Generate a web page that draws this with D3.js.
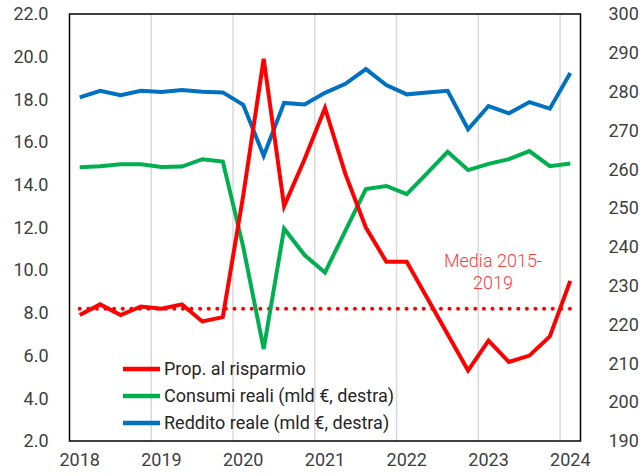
<!DOCTYPE html>
<html>
<head>
<meta charset="utf-8">
<title>Risparmio</title>
<script src="https://cdn.jsdelivr.net/npm/d3@7"></script>
<style>
  body { margin: 0; background: #fff; }
  text { font-family: Roboto, "Noto Sans", sans-serif; }
  .tick text { font-size: 18px; fill: #404040; }
  .legend text { font-size: 18px; fill: #262626; }
</style>
</head>
<body>
<script>
// quarters 2018Q1 - 2024Q1
var quarters = [];
[2018, 2019, 2020, 2021, 2022, 2023, 2024].forEach(function(y) {
  [1, 2, 3, 4].forEach(function(q) {
    if (y < 2024 || q == 1) quarters.push(y + 'Q' + q);
  });
});

var risparmio = [7.9, 8.4, 7.9, 8.3, 8.2, 8.4, 7.6, 7.8, 13.5, 19.9, 13.0, 15.2, 17.6, 14.5, 12.0, 10.4, 10.4, 8.7, 7.0, 5.3, 6.7, 5.7, 6.0, 6.9, 9.5];
var consumi = [260.5, 260.8, 261.3, 261.3, 260.6, 260.7, 262.6, 262.0, 240.0, 213.7, 244.7, 237.9, 233.4, 244.2, 254.9, 255.7, 253.6, 259.0, 264.5, 259.8, 261.4, 262.6, 264.7, 260.8, 261.5];
var reddito = [278.5, 280.2, 279.1, 280.2, 279.9, 280.4, 280.0, 279.8, 276.6, 263.5, 277.1, 276.7, 279.7, 282.0, 285.8, 281.7, 279.3, 279.8, 280.2, 270.3, 276.3, 274.4, 277.3, 275.6, 284.8];
var mediaRisparmio = 8.2;

var leftTicks = [2, 4, 6, 8, 10, 12, 14, 16, 18, 20, 22];
var rightTicks = [190, 200, 210, 220, 230, 240, 250, 260, 270, 280, 290, 300];
var yearLabels = ['2018', '2019', '2020', '2021', '2022', '2023', '2024'];

var legendItems = [
  {name: 'Prop. al risparmio', color: '#ff0000'},
  {name: 'Consumi reali (mld €, destra)', color: '#00b050'},
  {name: 'Reddito reale (mld €, destra)', color: '#0070c0'}
];

var w = 644, h = 476;
var margin = {left: 69.5, right: 63.5, top: 14, bottom: 35};

var svg = d3.select('body').append('svg').attr('width', w).attr('height', h);

var x = d3.scaleBand().domain(quarters).range([margin.left, w - margin.right]);
var xc = function(q) { return x(q) + x.bandwidth() / 2; };
var yL = d3.scaleLinear().domain([2, 22]).range([h - margin.bottom, margin.top]);
var yR = d3.scaleLinear().domain([190, 300]).range([h - margin.bottom, margin.top]);

// vertical gridlines at the start of each year
svg.append('g').selectAll('line').data(yearLabels.slice(1)).enter().append('line')
  .attr('x1', function(d) { return x(d + 'Q1'); })
  .attr('x2', function(d) { return x(d + 'Q1'); })
  .attr('y1', margin.top).attr('y2', h - margin.bottom)
  .attr('stroke', '#d9d9d9').attr('stroke-width', 1.5);

// axes
var leftAxis = d3.axisLeft(yL).tickValues(leftTicks).tickFormat(d3.format('.1f')).tickSize(0).tickPadding(21);
svg.append('g').attr('class', 'leftAxis').attr('transform', 'translate(' + margin.left + ',0)').call(leftAxis)
  .call(function(g) { g.select('.domain').remove(); });

var rightAxis = d3.axisRight(yR).tickValues(rightTicks).tickSize(0).tickPadding(28);
svg.append('g').attr('class', 'rightAxis').attr('transform', 'translate(' + (w - margin.right) + ',0)').call(rightAxis)
  .call(function(g) { g.select('.domain').remove(); });

var xAxis = d3.axisBottom(x)
  .tickValues(yearLabels.map(function(d) { return d + 'Q1'; }))
  .tickFormat(function(d) { return d.slice(0, 4); })
  .tickSize(0).tickPadding(12);
svg.append('g').attr('class', 'xAxis').attr('transform', 'translate(0,' + (h - margin.bottom) + ')').call(xAxis)
  .call(function(g) { g.select('.domain').remove(); });

// plot border
svg.append('rect').attr('x', margin.left).attr('y', margin.top)
  .attr('width', w - margin.left - margin.right).attr('height', h - margin.top - margin.bottom)
  .attr('fill', 'none').attr('stroke', '#000').attr('stroke-width', 1.5);

// average line (dotted)
var mediaLine = d3.line().x(function(d) { return xc(d); }).y(function() { return yL(mediaRisparmio); });
svg.append('path').datum(quarters).attr('d', mediaLine)
  .attr('fill', 'none').attr('stroke', '#ff0000').attr('stroke-width', 4)
  .attr('stroke-linecap', 'round').attr('stroke-dasharray', '0 8.6');

function drawSeries(values, scale, color) {
  var line = d3.line().x(function(d, i) { return xc(quarters[i]); }).y(function(d) { return scale(d); });
  svg.append('path').datum(values).attr('d', line)
    .attr('fill', 'none').attr('stroke', color).attr('stroke-width', 4)
    .attr('stroke-linejoin', 'miter');
}
drawSeries(reddito, yR, '#0070c0');
drawSeries(consumi, yR, '#00b050');
drawSeries(risparmio, yL, '#ff0000');

// annotation
var note = svg.append('text').attr('x', 493).attr('y', 267).attr('text-anchor', 'middle')
  .attr('font-size', 18).attr('fill', '#ff3b3b').attr('font-weight', 300);
note.append('tspan').attr('x', 493).text('Media 2015-');
note.append('tspan').attr('x', 493).attr('dy', 22).text('2019');

// legend
var legend = svg.append('g').attr('class', 'legend');
var rows = legend.selectAll('g').data(legendItems).enter().append('g')
  .attr('transform', function(d, i) { return 'translate(123,' + (369 + i * 27) + ')'; });
rows.append('line').attr('x1', 0).attr('x2', 37).attr('y1', 0).attr('y2', 0)
  .attr('stroke', function(d) { return d.color; }).attr('stroke-width', 4.5);
rows.append('text').attr('x', 41).attr('y', 6).text(function(d) { return d.name; });
</script>
</body>
</html>
